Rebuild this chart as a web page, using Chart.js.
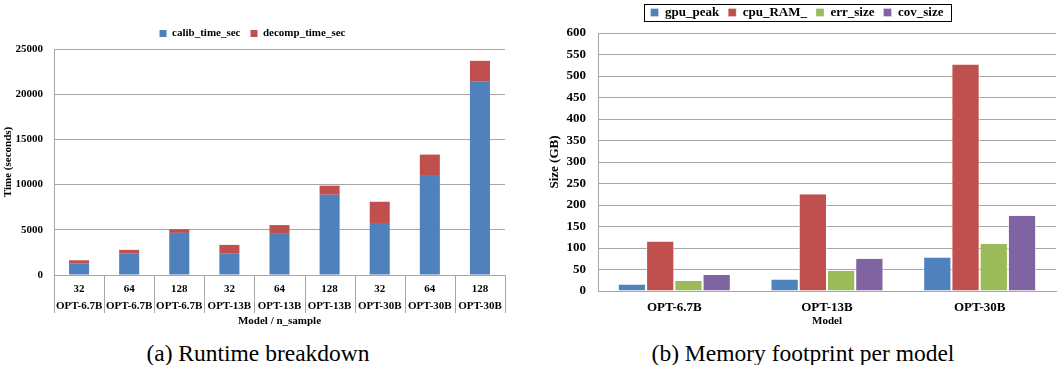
<!DOCTYPE html>
<html>
<head>
<meta charset="utf-8">
<script src="https://cdn.jsdelivr.net/npm/chart.js@4/dist/chart.umd.min.js"></script>
<style>
  body { margin: 0; background: #fff; width: 1058px; height: 365px; position: relative; overflow: hidden; }
  .box { position: absolute; top: 0; height: 328px; }
  .cap { position: absolute; top: 342px; font-family: "Liberation Serif", "Times New Roman", serif; font-size: 23.5px; line-height: 23.5px; color: #000; white-space: nowrap; transform: translateX(-50%); }
</style>
</head>
<body>
<div class="box" style="left:0; width:520px;"><canvas id="runtimeChart"></canvas></div>
<div class="box" style="left:530px; width:528px;"><canvas id="memoryChart"></canvas></div>
<div class="cap" style="left:258px;">(a) Runtime breakdown</div>
<div class="cap" style="left:803px;">(b) Memory footprint per model</div>
<script>
// --- data: runtime breakdown ---
const runLabels = [
  ['32', 'OPT-6.7B'], ['64', 'OPT-6.7B'], ['128', 'OPT-6.7B'],
  ['32', 'OPT-13B'], ['64', 'OPT-13B'], ['128', 'OPT-13B'],
  ['32', 'OPT-30B'], ['64', 'OPT-30B'], ['128', 'OPT-30B']
];
const calibTime = [1300, 2410, 4660, 2410, 4550, 8880, 5740, 10960, 21380];
const decompTime = [330, 370, 410, 920, 970, 1000, 2360, 2360, 2310];

// --- data: memory footprint ---
const models = ['OPT-6.7B', 'OPT-13B', 'OPT-30B'];
const gpuPeak = [15, 27, 78];
const cpuRAM = [115, 225, 527];
const errSize = [23, 47, 110];
const covSize = [37, 75, 175];

const BLUE = '#4f81bd', RED = '#c0504d', GREEN = '#9bbb59', PURPLE = '#8064a2';
const GRID = '#a6a6a6';

Chart.defaults.font.family = '"Liberation Serif", "Times New Roman", serif';
Chart.defaults.font.weight = 'bold';
Chart.defaults.color = '#000';
Chart.defaults.animation = false;

const plain = v => String(v);

// separators between the category labels under the runtime axis
const catSeparators = {
  id: 'catSeparators',
  afterDraw(chart) {
    const sx = chart.scales.x;
    const n = chart.data.labels.length;
    const step = (sx.right - sx.left) / n;
    const ctx = chart.ctx;
    ctx.save();
    ctx.strokeStyle = GRID;
    ctx.lineWidth = 1;
    ctx.beginPath();
    for (let i = 0; i <= n; i++) {
      const x = Math.round(sx.left + i * step) + 0.5;
      ctx.moveTo(x, sx.top);
      ctx.lineTo(x, sx.top + 38);
    }
    ctx.stroke();
    ctx.restore();
  }
};

// --- Chart 1: stacked runtime ---
new Chart(document.getElementById('runtimeChart'), {
  type: 'bar',
  data: {
    labels: runLabels,
    datasets: [
      { label: 'calib_time_sec', data: calibTime, backgroundColor: BLUE },
      { label: 'decomp_time_sec', data: decompTime, backgroundColor: RED }
    ]
  },
  plugins: [catSeparators],
  options: {
    responsive: true,
    maintainAspectRatio: false,
    layout: { padding: { left: 0, right: 15, top: 18, bottom: 0 } },
    datasets: { bar: { categoryPercentage: 0.8, barPercentage: 0.5 } },
    plugins: {
      legend: {
        position: 'top',
        labels: { boxWidth: 7, boxHeight: 7, padding: 10, font: { size: 11, weight: 'bold' } }
      },
      tooltip: { enabled: false }
    },
    scales: {
      x: {
        stacked: true,
        afterFit: s => { s.height = 53; },
        grid: { display: false, drawTicks: false },
        border: { color: GRID },
        ticks: { padding: 6, maxRotation: 0, autoSkip: false, font: { size: 11, weight: 'bold', lineHeight: 1.55 } },
        title: { display: true, text: 'Model / n_sample', padding: { top: 0, bottom: 0 }, font: { size: 11, weight: 'bold' } }
      },
      y: {
        stacked: true,
        min: 0, max: 25000,
        afterFit: s => { s.width = 54; },
        ticks: { stepSize: 5000, padding: 11, callback: plain, font: { size: 11, weight: 'bold' } },
        grid: { color: GRID, drawTicks: false },
        border: { color: GRID },
        title: { display: true, text: 'Time (seconds)', padding: { top: 2, bottom: 0 }, font: { size: 11, weight: 'bold' } }
      }
    }
  }
});

// extra gap under the memory legend
const legendGap = {
  id: 'legendGap',
  beforeInit(chart) {
    const lg = chart.legend;
    if (!lg) return;
    const fit = lg.fit;
    lg.fit = function () { fit.call(this); this.height += 4; };
  }
};

// legend frame for the memory chart
const legendFrame = {
  id: 'legendFrame',
  afterDraw(chart) {
    const hb = chart.legend.legendHitBoxes;
    if (!hb || !hb.length) return;
    const left = Math.min(...hb.map(h => h.left)) - 7;
    const right = Math.max(...hb.map(h => h.left + h.width)) + 7;
    const top = hb[0].top - 2;
    const bottom = hb[0].top + hb[0].height + 2;
    const ctx = chart.ctx;
    ctx.save();
    ctx.strokeStyle = '#000';
    ctx.lineWidth = 1;
    ctx.strokeRect(Math.round(left) + 0.5, Math.round(top) + 0.5, Math.round(right - left), Math.round(bottom - top));
    ctx.restore();
  }
};

// --- Chart 2: grouped memory ---
new Chart(document.getElementById('memoryChart'), {
  type: 'bar',
  data: {
    labels: models,
    datasets: [
      { label: 'gpu_peak', data: gpuPeak, backgroundColor: BLUE },
      { label: 'cpu_RAM_', data: cpuRAM, backgroundColor: RED },
      { label: 'err_size', data: errSize, backgroundColor: GREEN },
      { label: 'cov_size', data: covSize, backgroundColor: PURPLE }
    ]
  },
  plugins: [legendGap, legendFrame],
  options: {
    responsive: true,
    maintainAspectRatio: false,
    layout: { padding: { left: 8, right: 2, top: -3, bottom: 0 } },
    datasets: { bar: { categoryPercentage: 0.74, barPercentage: 1.0, borderColor: 'rgba(255,255,255,0.6)', borderWidth: { left: 1, right: 1 } } },
    plugins: {
      legend: {
        position: 'top',
        labels: { boxWidth: 8, boxHeight: 8, padding: 9, font: { size: 13, weight: 'bold' } }
      },
      tooltip: { enabled: false }
    },
    scales: {
      x: {
        afterFit: s => { s.height = 37; },
        grid: { display: false, drawTicks: false },
        border: { color: GRID },
        ticks: { padding: 9, font: { size: 13, weight: 'bold' } },
        title: { display: true, text: 'Model', padding: { top: 0, bottom: 0 }, font: { size: 11, weight: 'bold' } }
      },
      y: {
        min: 0, max: 600,
        afterFit: s => { s.width = 60; },
        ticks: { stepSize: 50, padding: 12, font: { size: 13, weight: 'bold' } },
        grid: { color: GRID, drawTicks: false },
        border: { color: GRID },
        title: { display: true, text: 'Size (GB)', padding: { top: 9, bottom: 0 }, font: { size: 13, weight: 'bold' } }
      }
    }
  }
});
</script>
</body>
</html>
